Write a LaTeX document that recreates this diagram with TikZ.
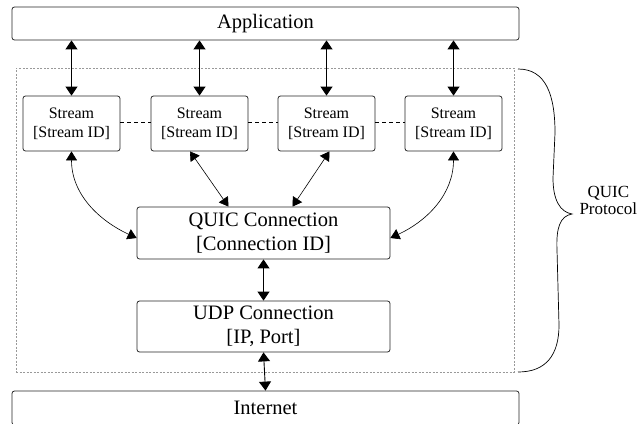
\documentclass[tikz,border=0pt]{standalone}
\usepackage{fontspec}
\setmainfont{Liberation Serif}
\usetikzlibrary{arrows.meta}
\tikzset{
  bigtip/.tip={Triangle[length=9pt,width=12pt]},
  smalltip/.tip={Triangle[length=9pt,width=11pt]}
}
\begin{document}
\begin{tikzpicture}[x=1pt,y=-1pt,
  box/.style={draw=black!85, line width=0.8pt, rounded corners=2.5pt, inner sep=0pt, align=center},
  streambox/.style={box, minimum width=97pt, minimum height=55pt, font=\fontsize{16}{19}\selectfont},
  bigbox/.style={box, minimum width=253pt, font=\fontsize{20.5}{23.5}\selectfont},
  widebox/.style={box, minimum width=507pt, minimum height=34pt, font=\fontsize{20.5}{23.5}\selectfont},
  link/.style={bigtip-bigtip, line width=0.9pt},
  thinlink/.style={smalltip-smalltip, line width=0.6pt},
  peer/.style={line width=1.8pt, dash pattern=on 4pt off 3pt},
  frame/.style={draw=black!40, dash pattern=on 2pt off 1.5pt, line width=0.5pt, inner sep=0pt}]
\useasboundingbox (0,0) rectangle (644,423);
\clip (0,0) rectangle (644,423);

% layers
\node[widebox, minimum height=33pt] (app) at (265.5,23.5) {Application};
\node[frame, minimum width=498pt, minimum height=304pt] (proto) at (265,220) {};
\node[streambox] (s1) at (71.5,123.5) {Stream\\{}[Stream ID]};
\node[streambox] (s2) at (199.5,123.5) {Stream\\{}[Stream ID]};
\node[streambox] (s3) at (326.5,123.5) {Stream\\{}[Stream ID]};
\node[streambox] (s4) at (453.5,123.5) {Stream\\{}[Stream ID]};
\node[bigbox, minimum height=52pt] (quic) at (263.5,233) {QUIC Connection\\{}[Connection ID]};
\node[bigbox, minimum height=51pt] (udp) at (263.5,326.5) {UDP Connection\\{}[IP, Port]};
\node[widebox] (inet) at (265.5,408) {Internet};

% application <-> streams
\foreach \s in {s1,s2,s3,s4}
  \draw[link] (\s |- app.south) -- (\s.north);

% streams side by side
\draw[peer] ([yshift=1pt]s1.east) -- ([yshift=1pt]s2.west);
\draw[peer] ([yshift=1pt]s2.east) -- ([yshift=1pt]s3.west);
\draw[peer] ([yshift=1pt]s3.east) -- ([yshift=1pt]s4.west);

% streams <-> connection
\draw[thinlink] (s1.south) to[out=-90, in=155] ([yshift=-5pt]quic.west);
\draw[thinlink] (s4.south) to[out=-90, in=25] ([yshift=-5pt]quic.east);
\draw[thinlink] ([xshift=-9.5pt]s2.south) -- ([xshift=-35pt]quic.north);
\draw[thinlink] ([xshift=3pt]s3.south) -- ([xshift=29pt]quic.north);

% connection <-> transport <-> network
\draw[link] (quic.south) -- (udp.north);
\draw[link] (udp.south) -- (inet.north);

% protocol brace
\draw[line width=0.7pt] (518,69) .. controls (546,69) and (555,95) .. (555,133)
  -- (553,178) .. controls (553,200) and (560,212) .. (572,214)
  coordinate (tip)
  .. controls (560,216) and (556,228) .. (557,250)
  -- (559,325) .. controls (559,355) and (546,372) .. (518,372);
\node[align=center, font=\fontsize{17}{17}\selectfont, anchor=west] (plabel) at ([xshift=4pt,yshift=14pt]tip) {QUIC\\Protocol};
\end{tikzpicture}
\end{document}
